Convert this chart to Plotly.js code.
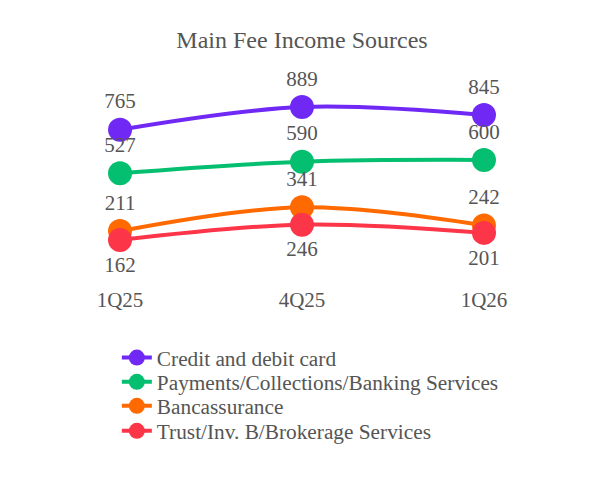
<!DOCTYPE html>
<html>
<head>
<meta charset="utf-8">
<script src="https://cdn.plot.ly/plotly-3.0.1.min.js"></script>
<style>
  body { margin: 0; background: #fff; }
  #chart { width: 604px; height: 482px; }
</style>
</head>
<body>
<div id="chart"></div>
<script>
  // quarters and values per fee source
  const quarters = ['1Q25', '4Q25', '1Q26'];
  const creditCard = [765, 889, 845];
  const payments = [527, 590, 600];
  const bancassurance = [211, 341, 242];
  const trust = [162, 246, 201];

  const names = [
    'Credit and debit card',
    'Payments/Collections/Banking Services',
    'Bancassurance',
    'Trust/Inv. B/Brokerage Services'
  ];
  const colors = ['#7029f5', '#04bf6f', '#ff6a00', '#fc3549'];
  const textPos = ['top center', 'top center', 'top center', 'bottom center'];
  const series = [creditCard, payments, bancassurance, trust];

  var serif = 'Liberation Serif, Times New Roman, serif';
  var legendKeys = ['legend', 'legend2', 'legend3', 'legend4'];
  // one legend per trace so the rows sit closer together
  var legendY = [-0.355, -0.473, -0.59, -0.712];

  var data = series.map(function(vals, i) {
    return {
      x: quarters,
      y: vals,
      name: names[i],
      legend: legendKeys[i],
      type: 'scatter',
      mode: 'lines+markers+text',
      line: {shape: 'spline', width: 4, color: colors[i]},
      marker: {size: 24, color: colors[i]},
      text: vals.map(String),
      textposition: textPos[i],
      textfont: {family: serif, size: 21, color: '#555'},
      cliponaxis: false
    };
  });

  var layout = {
    width: 604,
    height: 482,
    title: {
      text: 'Main Fee Income Sources',
      x: 0.5,
      y: 0.935,
      font: {family: serif, size: 24, color: '#555'}
    },
    font: {family: serif, size: 20, color: '#555'},
    margin: {l: 80, r: 80, t: 80, b: 197},
    paper_bgcolor: '#fff',
    plot_bgcolor: '#fff',
    showlegend: true,
    xaxis: {
      type: 'category',
      range: [-0.22, 2.22],
      showgrid: false,
      zeroline: false,
      showline: false,
      ticks: '',
      tickfont: {size: 21, color: '#555'}
    },
    yaxis: {
      range: [-84, 1037],
      visible: false,
      showgrid: false,
      zeroline: false
    }
  };

  legendKeys.forEach(function(k, i) {
    layout[k] = {
      x: 0.083,
      y: legendY[i],
      xanchor: 'left',
      yanchor: 'middle',
      orientation: 'v',
      bgcolor: 'rgba(0,0,0,0)',
      font: {family: serif, size: 21.3, color: '#555'}
    };
  });

  Plotly.newPlot('chart', data, layout, {displayModeBar: false});
</script>
</body>
</html>
